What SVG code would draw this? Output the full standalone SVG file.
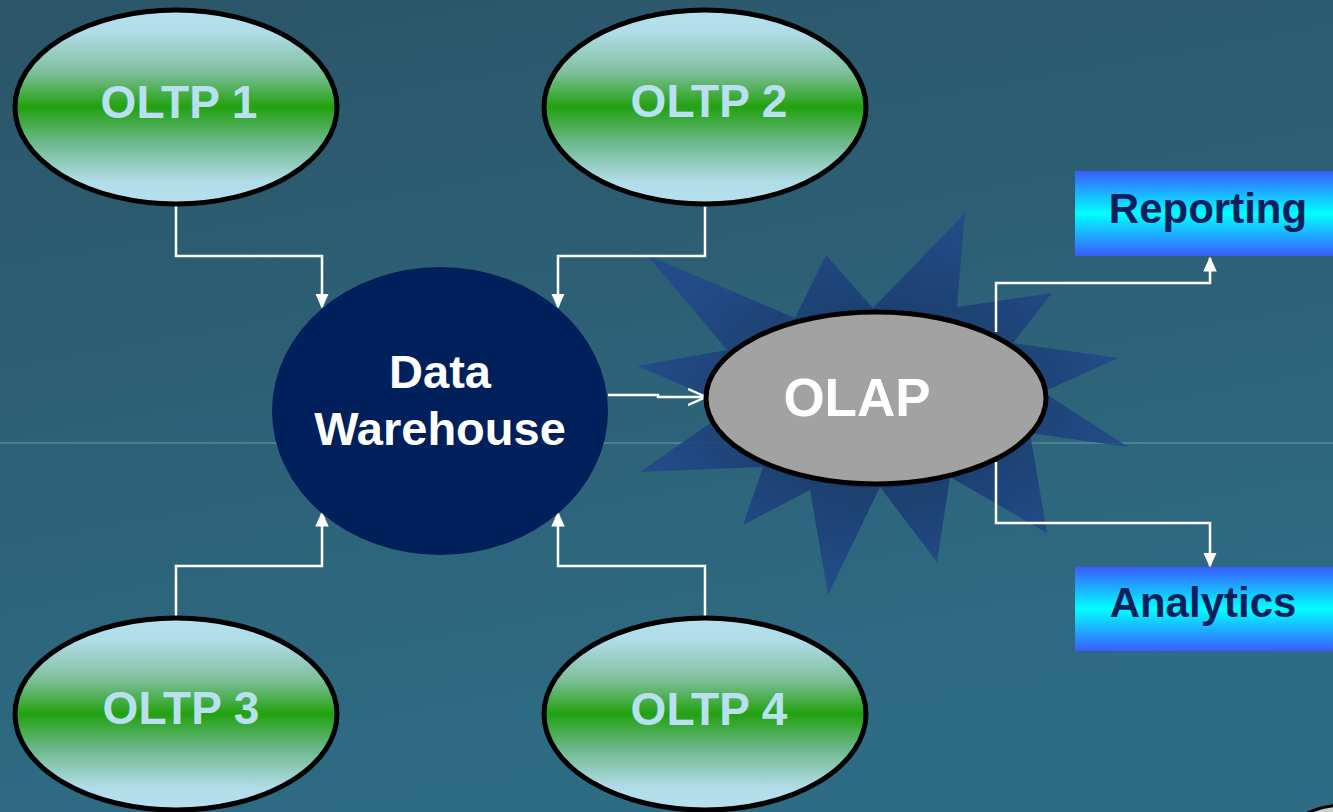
<svg xmlns="http://www.w3.org/2000/svg" width="1333" height="812" viewBox="0 0 1333 812">
<defs>
<linearGradient id="bg" x1="0" y1="0" x2="0.3" y2="1">
<stop offset="0" stop-color="#2b5568"/>
<stop offset="1" stop-color="#2e6c84"/>
</linearGradient>
<linearGradient id="green" x1="0" y1="0" x2="0" y2="1">
<stop offset="0" stop-color="#b6e0ee"/>
<stop offset="0.12" stop-color="#b0dce8"/>
<stop offset="0.32" stop-color="#7fbf9c"/>
<stop offset="0.5" stop-color="#22a10f"/>
<stop offset="0.68" stop-color="#6cb78a"/>
<stop offset="0.88" stop-color="#b0dce8"/>
<stop offset="1" stop-color="#b6e0ee"/>
</linearGradient>
<linearGradient id="cyan" x1="0" y1="0" x2="0" y2="1">
<stop offset="0" stop-color="#3a5cff"/>
<stop offset="0.5" stop-color="#00ffff"/>
<stop offset="1" stop-color="#3a5cff"/>
</linearGradient>
<radialGradient id="starg" cx="0.5" cy="0.5" r="0.5">
<stop offset="0.5" stop-color="#1a3d70"/>
<stop offset="1" stop-color="#22498a"/>
</radialGradient>
<marker id="ah" viewBox="0 0 10 10" refX="9" refY="5" markerWidth="15" markerHeight="15" markerUnits="userSpaceOnUse" orient="auto">
<path d="M0,0.5 L10,5 L0,9.5 z" fill="#ffffff"/>
</marker>
<marker id="oh" viewBox="0 0 10 10" refX="10" refY="5" markerWidth="18" markerHeight="18" markerUnits="userSpaceOnUse" orient="auto">
<path d="M0,0.5 L10,5 L0,9.5" fill="none" stroke="#ffffff" stroke-width="1.3"/>
</marker>
</defs>
<style>
.oltp ellipse{fill:url(#green);stroke:#000;stroke-width:5}
.oltp text{font-family:"Liberation Sans",Arial,sans-serif;font-weight:bold;font-size:46px;fill:#b8e0f0;text-anchor:middle}
.box rect{fill:url(#cyan)}
.box text{font-family:"Liberation Sans",Arial,sans-serif;font-weight:bold;font-size:42px;fill:#0a1f5c;text-anchor:middle}
.wt{font-family:"Liberation Sans",Arial,sans-serif;font-weight:bold;fill:#ffffff;text-anchor:middle}
#connectors path{fill:none;stroke:#ffffff;stroke-width:2.5}
</style>
<rect width="1333" height="812" fill="url(#bg)"/>
<line x1="0" y1="443" x2="1333" y2="443" stroke="#6c9aa8" stroke-width="1"/>
<polygon id="star" fill="url(#starg)" opacity="0.9" points="647,255 795,318 826,255 873,308 965,213 957,307 1052,293 1013,343 1118,358 1043,392 1128,447 1030,433 1047,533 950,477 937,562 880,487 828,595 810,490 743,525 763,467 640,472 733,407 637,366 727,350"/>
<g id="connectors">
<path d="M176,205 V256 H322 V307" marker-end="url(#ah)"/>
<path d="M705,205 V256 H558 V307" marker-end="url(#ah)"/>
<path d="M176,617 V566 H322 V513" marker-end="url(#ah)"/>
<path d="M705,617 V566 H558 V513" marker-end="url(#ah)"/>
<path d="M608,395 H658 V397 H706" marker-end="url(#oh)"/>
<path d="M996,332 V283 H1210 V258" marker-end="url(#ah)"/>
<path d="M996,462 V523 H1210 V566" marker-end="url(#ah)"/>
</g>
<g id="oltp1" class="oltp"><ellipse cx="176" cy="107" rx="161" ry="97"/><text x="179" y="118">OLTP 1</text></g>
<g id="oltp2" class="oltp"><ellipse cx="705" cy="107" rx="161" ry="97"/><text x="709" y="117">OLTP 2</text></g>
<g id="oltp3" class="oltp"><ellipse cx="176" cy="714" rx="161" ry="96"/><text x="181" y="724">OLTP 3</text></g>
<g id="oltp4" class="oltp"><ellipse cx="705" cy="714" rx="161" ry="96"/><text x="709" y="725">OLTP 4</text></g>
<g id="dw"><ellipse cx="440" cy="411" rx="168" ry="144" fill="#00205c"/><text class="wt" x="440" y="388" font-size="47">Data</text><text class="wt" x="440" y="445" font-size="47">Warehouse</text></g>
<g id="olap"><ellipse cx="876" cy="398" rx="170" ry="86" fill="#a2a2a2" stroke="#000" stroke-width="5"/><text class="wt" x="857" y="416" font-size="53">OLAP</text></g>
<g id="reporting" class="box"><rect x="1075" y="171" width="270" height="85"/><text x="1208" y="223">Reporting</text></g>
<g id="analytics" class="box"><rect x="1075" y="567" width="270" height="84"/><text x="1203" y="617">Analytics</text></g>
<ellipse cx="1345" cy="845" rx="62" ry="40" fill="#c8d0d4" stroke="#000" stroke-width="3"/>
</svg>
